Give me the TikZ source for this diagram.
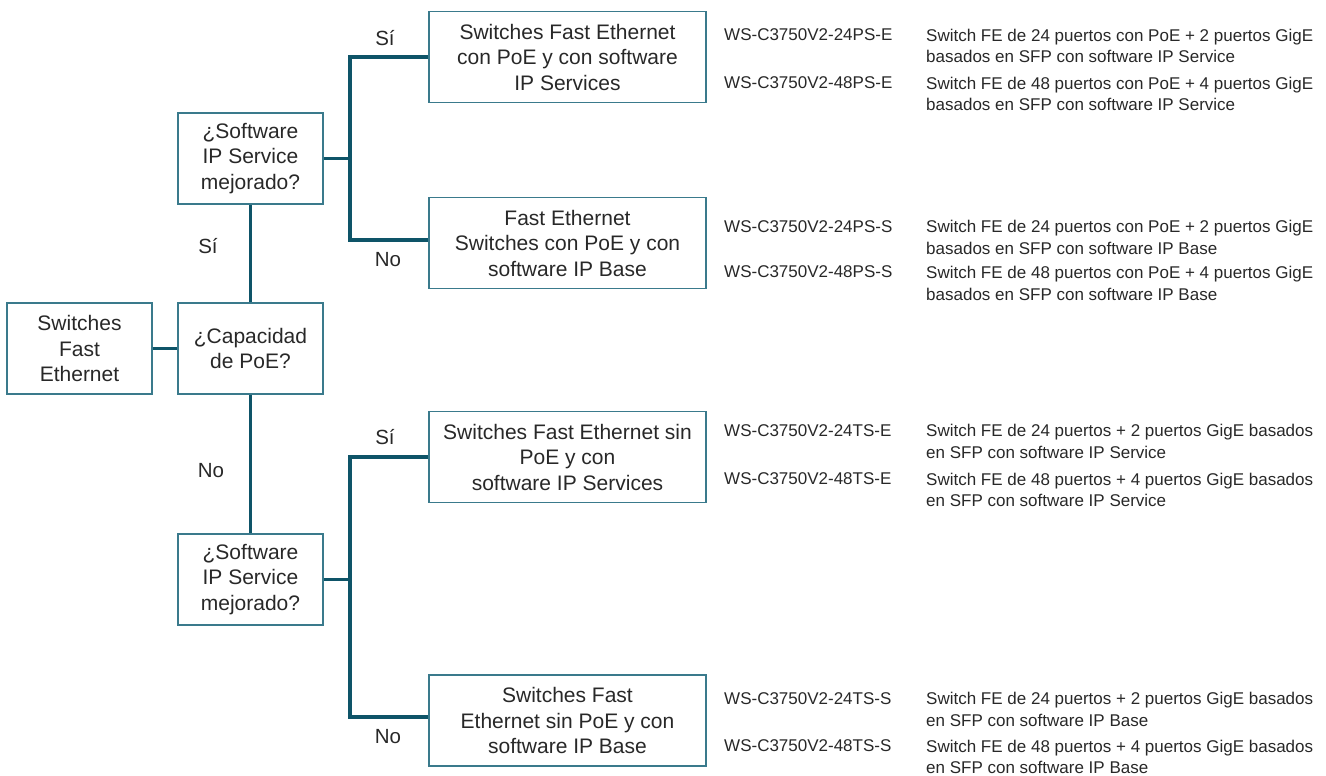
\documentclass[tikz,border=0pt]{standalone}
\usepackage{fontspec}
\setmainfont{Liberation Sans}
\definecolor{boxc}{RGB}{58,122,140}
\definecolor{linec}{RGB}{14,84,104}
\definecolor{txt}{RGB}{40,40,40}
\begin{document}
\begin{tikzpicture}[x=1pt,y=-1pt,
  box/.style={draw=boxc, line width=1.3pt, minimum height=91pt, align=center,
    font=\fontsize{21}{25.5}\selectfont, text=txt, inner sep=0pt},
  qbox/.style={box, minimum width=145pt},
  abox/.style={box, minimum width=277pt},
  conn/.style={draw=linec, line width=3.2pt},
  lbl/.style={font=\fontsize{20.5}{24}\selectfont, text=txt, inner sep=0pt},
  model/.style={anchor=west, font=\fontsize{17}{21.5}\selectfont, text=txt, inner sep=0pt},
  desc/.style={anchor=west, align=left, font=\fontsize{17}{21.5}\selectfont, text=txt, inner sep=0pt}]
\useasboundingbox (0,0) rectangle (1326,776);

\node[qbox] (fe) at (79.5,348.5) {Switches\\Fast\\Ethernet};
\node[qbox] (cap) at (250.5,348.5) {¿Capacidad\\de PoE?};
\node[qbox] (sw1) at (250.5,158.5) {¿Software\\IP Service\\mejorado?};
\node[qbox] (sw2) at (250.5,579.5) {¿Software\\IP Service\\mejorado?};

\node[abox] (r1) at (567.5,57) {Switches Fast Ethernet\\con PoE y con software\\IP Services};
\node[abox] (r2) at (567.5,243) {Fast Ethernet\\Switches con PoE y con\\software IP Base};
\node[abox] (r3) at (567.5,457) {Switches Fast Ethernet sin\\PoE y con\\software IP Services};
\node[abox] (r4) at (567.5,720.5) {Switches Fast\\Ethernet sin PoE y con\\software IP Base};

\coordinate (t1) at (350,57);
\coordinate (t2) at (350,240);
\coordinate (b1) at (350,457);
\coordinate (b2) at (350,717);

\draw[conn] (fe.east) -- (cap.west);
\draw[conn] (cap.north) -- (sw1.south);
\draw[conn] (cap.south) -- (sw2.north);
\draw[conn] (sw1.east) -- (sw1.east -| t1);
\draw[conn] (sw2.east) -- (sw2.east -| b1);
\draw[conn] (t1 -| r1.west) -- (t1) -- (t2) -- (t2 -| r2.west);
\draw[conn] (b1 -| r3.west) -- (b1) -- (b2) -- (b2 -| r4.west);

\node[lbl] (l1) at (385,38) {Sí};
\node[lbl] (l2) at (388,260) {No};
\node[lbl] (l3) at (208,246) {Sí};
\node[lbl] (l4) at (211,471) {No};
\node[lbl] (l5) at (385,437) {Sí};
\node[lbl] (l6) at (388,737) {No};

\node[model] (m1) at (724,35) {WS-C3750V2-24PS-E};
\node[desc] (d1) at (926,46) {Switch FE de 24 puertos con PoE + 2 puertos GigE\\basados en SFP con software IP Service};
\node[model] (m2) at (724,83) {WS-C3750V2-48PS-E};
\node[desc] (d2) at (926,94) {Switch FE de 48 puertos con PoE + 4 puertos GigE\\basados en SFP con software IP Service};

\node[model] (m3) at (724,227) {WS-C3750V2-24PS-S};
\node[desc] (d3) at (926,237.5) {Switch FE de 24 puertos con PoE + 2 puertos GigE\\basados en SFP con software IP Base};
\node[model] (m4) at (724,272) {WS-C3750V2-48PS-S};
\node[desc] (d4) at (926,283.5) {Switch FE de 48 puertos con PoE + 4 puertos GigE\\basados en SFP con software IP Base};

\node[model] (m5) at (724,431) {WS-C3750V2-24TS-E};
\node[desc] (d5) at (926,441.5) {Switch FE de 24 puertos + 2 puertos GigE basados\\en SFP con software IP Service};
\node[model] (m6) at (724,479) {WS-C3750V2-48TS-E};
\node[desc] (d6) at (926,490) {Switch FE de 48 puertos + 4 puertos GigE basados\\en SFP con software IP Service};

\node[model] (m7) at (724,699) {WS-C3750V2-24TS-S};
\node[desc] (d7) at (926,709.5) {Switch FE de 24 puertos + 2 puertos GigE basados\\en SFP con software IP Base};
\node[model] (m8) at (724,746) {WS-C3750V2-48TS-S};
\node[desc] (d8) at (926,757) {Switch FE de 48 puertos + 4 puertos GigE basados\\en SFP con software IP Base};
\end{tikzpicture}
\end{document}
